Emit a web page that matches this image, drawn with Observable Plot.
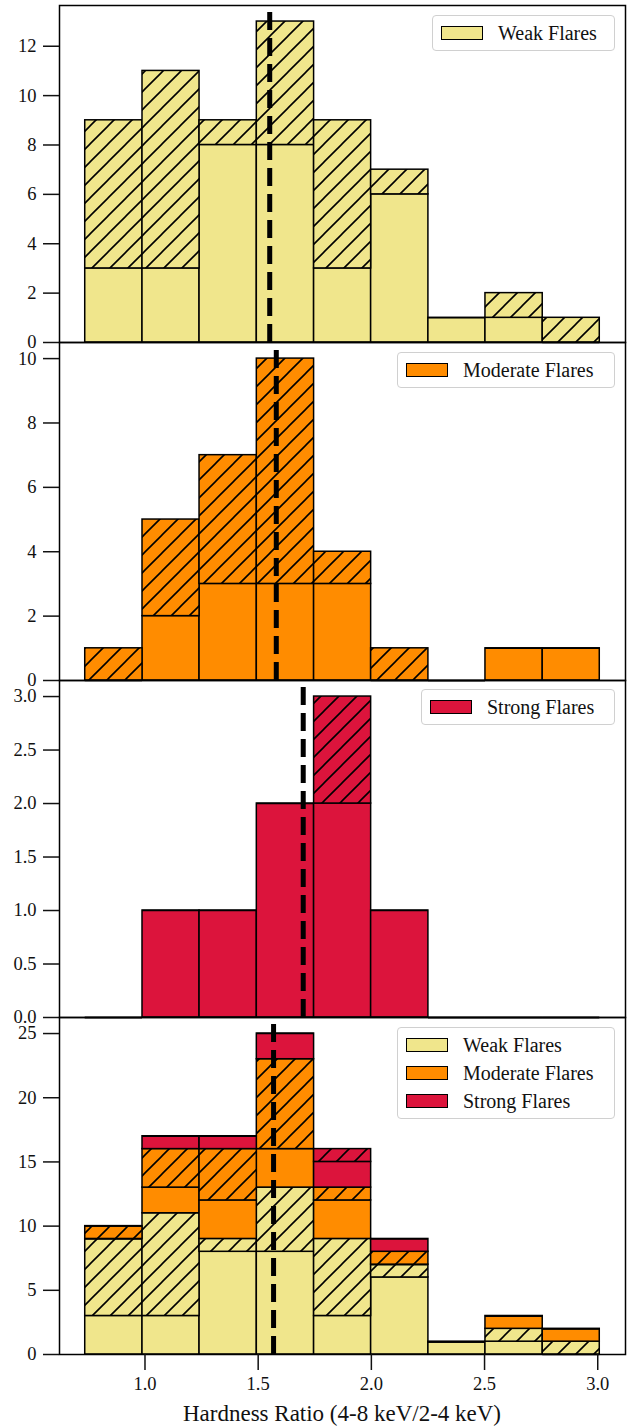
<!DOCTYPE html>
<html>
<head>
<meta charset="utf-8">
<script src="https://cdn.jsdelivr.net/npm/d3@7"></script>
<script src="https://cdn.jsdelivr.net/npm/@observablehq/plot@0.6"></script>
<style>
  html, body { margin: 0; padding: 0; background: white; }
  #chart { position: relative; width: 630px; height: 1427px; font-family: "Liberation Serif", "Times New Roman", "DejaVu Serif", serif; color: #111; }
  .panel { position: absolute; left: 0; }
  .panel svg text { font-family: "Liberation Serif", "Times New Roman", "DejaVu Serif", serif; }
  .legend { position: absolute; box-sizing: border-box; border: 1px solid #d0d0d0; border-radius: 4px; background: rgba(255,255,255,0.8); }
  .sw { position: absolute; box-sizing: border-box; width: 42px; height: 14px; border: 1.5px solid #000; }
  .lt { position: absolute; font-size: 20px; line-height: 20px; white-space: nowrap; }
  .xlabel { position: absolute; left: 59px; width: 566px; text-align: center; font-size: 23px; line-height: 28px; }
</style>
</head>
<body>
<svg width="0" height="0" style="position:absolute">
  <defs>
    <pattern id="h-weak" patternUnits="userSpaceOnUse" width="18" height="18">
      <rect width="18" height="18" fill="#F0E68C"/>
      <path d="M-2,2 L2,-2 M0,18 L18,0 M16,20 L20,16" stroke="black" stroke-width="1.6"/>
    </pattern>
    <pattern id="h-mod" patternUnits="userSpaceOnUse" width="18" height="18">
      <rect width="18" height="18" fill="#FF8C00"/>
      <path d="M-2,2 L2,-2 M0,18 L18,0 M16,20 L20,16" stroke="black" stroke-width="1.6"/>
    </pattern>
    <pattern id="h-strong" patternUnits="userSpaceOnUse" width="18" height="18">
      <rect width="18" height="18" fill="#DC143C"/>
      <path d="M-2,2 L2,-2 M0,18 L18,0 M16,20 L20,16" stroke="black" stroke-width="1.6"/>
    </pattern>
  </defs>
</svg>
<div id="chart"></div>
<script>
// ---- data ----
const binEdges = [0.736, 0.989, 1.241, 1.494, 1.747, 1.999, 2.252, 2.504, 2.757, 3.009];
const weakSolid   = [3, 3, 8, 8, 3, 6, 1, 1, 0];
const weakHatch   = [6, 8, 1, 5, 6, 1, 0, 1, 1];
const modSolid    = [0, 2, 3, 3, 3, 0, 0, 1, 1];
const modHatch    = [1, 3, 4, 7, 1, 1, 0, 0, 0];
const strongSolid = [0, 1, 1, 2, 2, 1, 0, 0, 0];
const strongHatch = [0, 0, 0, 0, 1, 0, 0, 0, 0];
const medians = [1.551, 1.580, 1.699, 1.568];
const yTicks1 = [0, 2, 4, 6, 8, 10, 12];
const yTicks2 = [0, 2, 4, 6, 8, 10];
const yTicks3 = [0, 0.5, 1.0, 1.5, 2.0, 2.5, 3.0];
const yTicks4 = [0, 5, 10, 15, 20, 25];
const xTicks = [1.0, 1.5, 2.0, 2.5, 3.0];
const legendNames = ["Weak Flares", "Moderate Flares", "Strong Flares"];
const colors = {weak: "#F0E68C", mod: "#FF8C00", strong: "#DC143C"};
const FONT = "'Liberation Serif', 'Times New Roman', 'DejaVu Serif', serif";

// ---- helpers ----
function stackLayers(layers) {
  const base = binEdges.slice(0, -1).map(() => 0);
  return layers.map(L => {
    const rows = L.values.map((v, i) => {
      const r = {x1: binEdges[i], x2: binEdges[i + 1], y1: base[i], y2: base[i] + v};
      base[i] += v;
      return r;
    });
    return {rows, fill: L.fill};
  });
}

const span = binEdges[binEdges.length - 1] - binEdges[0];
const xDomain = [binEdges[0] - 0.05 * span, binEdges[binEdges.length - 1] + 0.05 * span];

const panels = [
  {layers: [{values: weakSolid, fill: colors.weak}, {values: weakHatch, fill: "url(#h-weak)"}], ticks: yTicks1, fmt: d => String(d)},
  {layers: [{values: modSolid, fill: colors.mod}, {values: modHatch, fill: "url(#h-mod)"}], ticks: yTicks2, fmt: d => String(d)},
  {layers: [{values: strongSolid, fill: colors.strong}, {values: strongHatch, fill: "url(#h-strong)"}], ticks: yTicks3, fmt: d => d.toFixed(1)},
  {layers: [
    {values: weakSolid, fill: colors.weak}, {values: weakHatch, fill: "url(#h-weak)"},
    {values: modSolid, fill: colors.mod}, {values: modHatch, fill: "url(#h-mod)"},
    {values: strongSolid, fill: colors.strong}, {values: strongHatch, fill: "url(#h-strong)"}
  ], ticks: yTicks4, fmt: d => String(d)}
];

const tops = [5, 342, 680, 1017];
const heights = [337, 338, 337, 337];
const chart = document.getElementById("chart");

panels.forEach((p, k) => {
  const stacked = stackLayers(p.layers);
  const totals = binEdges.slice(0, -1).map((_, i) => d3.sum(p.layers, L => L.values[i]));
  const yMax = d3.max(totals) * 1.05;
  const last = k === 3;
  const marks = [];
  stacked.forEach(S => {
    marks.push(Plot.rect(S.rows.filter(r => r.y2 > r.y1), {x1: "x1", x2: "x2", y1: "y1", y2: "y2", fill: S.fill, stroke: "black", strokeWidth: 1.5}));
    marks.push(Plot.ruleY(S.rows.filter(r => r.y2 === r.y1), {y: "y2", x1: "x1", x2: "x2", stroke: "black", strokeWidth: 1.5}));
  });
  marks.push(Plot.ruleX([medians[k]], {x: d => d, y1: 0, y2: yMax, stroke: "black", strokeWidth: 5, strokeDasharray: "18,8"}));
  marks.push(Plot.frame({stroke: "black", strokeWidth: 1.5}));
  marks.push(Plot.axisY(p.ticks, {tickSize: 16, tickPadding: 7, strokeWidth: 1.5, tickFormat: p.fmt, label: null, fontSize: 18.5}));
  if (last) {
    marks.push(Plot.axisX(xTicks, {tickSize: 16, tickPadding: 6, strokeWidth: 1.5, tickFormat: d => d.toFixed(1), label: null, fontSize: 18.5}));
  }
  const h = heights[k];
  const svg = Plot.plot({
    width: 630,
    height: h + 5 + (last ? 73 : 5),
    marginLeft: 59,
    marginRight: 5,
    marginTop: 5,
    marginBottom: last ? 73 : 5,
    x: last ? {domain: xDomain} : {domain: xDomain, axis: null},
    y: {domain: [0, yMax]},
    style: {background: "transparent", overflow: "visible", fontFamily: FONT, fontSize: "18.5px", color: "#111"},
    marks
  });
  const div = document.createElement("div");
  div.className = "panel";
  div.style.top = (tops[k] - 5) + "px";
  div.appendChild(svg);
  chart.appendChild(div);
});

// ---- legends ----
function legend(left, top, width, items) {
  const box = document.createElement("div");
  box.className = "legend";
  box.style.left = left + "px";
  box.style.top = top + "px";
  box.style.width = width + "px";
  box.style.height = (8 + items.length * 28) + "px";
  items.forEach((it, i) => {
    const cy = 17 + i * 28;
    const sw = document.createElement("div");
    sw.className = "sw";
    sw.style.left = "8px";
    sw.style.top = (cy - 7) + "px";
    sw.style.background = it.color;
    box.appendChild(sw);
    const t = document.createElement("div");
    t.className = "lt";
    t.style.left = "65px";
    t.style.top = (cy - 10) + "px";
    t.textContent = it.name;
    box.appendChild(t);
  });
  chart.appendChild(box);
}
legend(432, 15, 183, [{name: legendNames[0], color: colors.weak}]);
legend(397, 352, 218, [{name: legendNames[1], color: colors.mod}]);
legend(421, 689, 194, [{name: legendNames[2], color: colors.strong}]);
legend(397, 1027, 218, [
  {name: legendNames[0], color: colors.weak},
  {name: legendNames[1], color: colors.mod},
  {name: legendNames[2], color: colors.strong}
]);

const xl = document.createElement("div");
xl.className = "xlabel";
xl.style.top = "1400px";
xl.textContent = "Hardness Ratio (4-8 keV/2-4 keV)";
chart.appendChild(xl);
</script>
</body>
</html>
